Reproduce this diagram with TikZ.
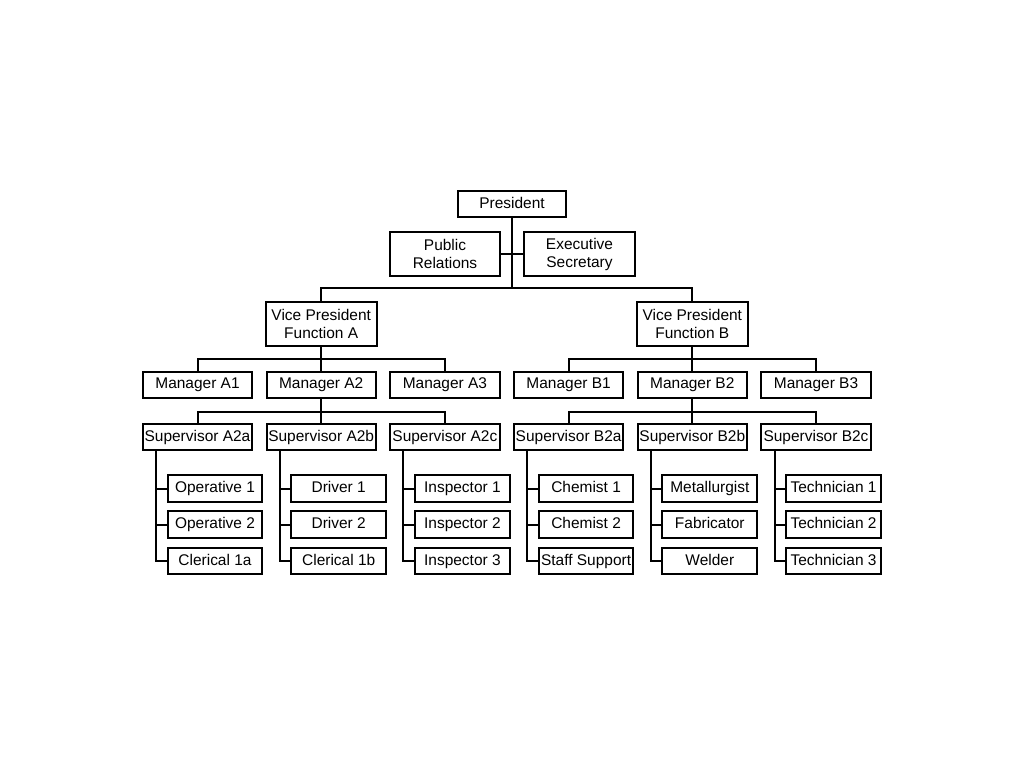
\documentclass[tikz,border=0pt]{standalone}
\usepackage{fontspec}
\setmainfont{Liberation Sans}
\begin{document}
\begin{tikzpicture}[x=0.75pt,y=-0.75pt,
  box/.style={draw, line width=1.5pt, inner sep=0pt, align=center, font=\fontsize{11.6}{13.5}\selectfont},
  one/.style={box, text height=8.4pt, text depth=2.4pt},
  col/.style={one, minimum width=82pt, minimum height=19.5pt},
  sup/.style={one, minimum width=82pt, minimum height=20pt},
  leaf/.style={one, minimum width=71pt, minimum height=20pt},
  big/.style={box, minimum width=83pt, minimum height=33.5pt},
  link/.style={draw, line width=1.5pt}]
\useasboundingbox (0,0) rectangle (1024,768);
% top
\node[one, minimum width=81pt, minimum height=19.5pt] (pres) at (512,204) {President};
\node[big] (pr) at (445,254) {Public\\Relations};
\node[big] (es) at (579.5,254) {Executive\\Secretary};
\node[big] (vpa) at (321.2,324) {Vice President\\Function A};
\node[big] (vpb) at (692.3,324) {Vice President\\Function B};
% managers
\node[col] (ma1) at (197.5,384.5) {Manager A1};
\node[col] (ma2) at (321.2,384.5) {Manager A2};
\node[col] (ma3) at (444.9,384.5) {Manager A3};
\node[col] (mb1) at (568.6,384.5) {Manager B1};
\node[col] (mb2) at (692.3,384.5) {Manager B2};
\node[col] (mb3) at (816.0,384.5) {Manager B3};
% supervisors
\node[sup] (sa) at (197.5,437) {Supervisor A2a};
\node[sup] (sb) at (321.2,437) {Supervisor A2b};
\node[sup] (sc) at (444.9,437) {Supervisor A2c};
\node[sup] (sd) at (568.6,437) {Supervisor B2a};
\node[sup] (se) at (692.3,437) {Supervisor B2b};
\node[sup] (sf) at (816.0,437) {Supervisor B2c};
% leaves
\node[leaf] (a1) at (215,488.5) {Operative 1};
\node[leaf] (a2) at (215,524.5) {Operative 2};
\node[leaf] (a3) at (215,561) {Clerical 1a};
\node[leaf] (b1) at (338.7,488.5) {Driver 1};
\node[leaf] (b2) at (338.7,524.5) {Driver 2};
\node[leaf] (b3) at (338.7,561) {Clerical 1b};
\node[leaf] (c1) at (462.4,488.5) {Inspector 1};
\node[leaf] (c2) at (462.4,524.5) {Inspector 2};
\node[leaf] (c3) at (462.4,561) {Inspector 3};
\node[leaf] (d1) at (586.1,488.5) {Chemist 1};
\node[leaf] (d2) at (586.1,524.5) {Chemist 2};
\node[leaf] (d3) at (586.1,561) {Staff Support};
\node[leaf] (e1) at (709.8,488.5) {Metallurgist};
\node[leaf] (e2) at (709.8,524.5) {Fabricator};
\node[leaf] (e3) at (709.8,561) {Welder};
\node[leaf] (f1) at (833.5,488.5) {Technician 1};
\node[leaf] (f2) at (833.5,524.5) {Technician 2};
\node[leaf] (f3) at (833.5,561) {Technician 3};
% bus coordinates
\coordinate (topbus) at (512,288.3);
\coordinate (busA) at (321.2,359.3);
\coordinate (busB) at (692.3,359.3);
\coordinate (busS) at (321.2,411.7);
\coordinate (busT) at (692.3,411.7);
\coordinate (spa) at (156,451);
\coordinate (spb) at (279.7,451);
\coordinate (spc) at (403.4,451);
\coordinate (spd) at (527.1,451);
\coordinate (spe) at (650.8,451);
\coordinate (spf) at (774.5,451);
% top links
\draw[link] (pres.south) -- (topbus);
\draw[link] (pr.east) -- (es.west);
\draw[link] (vpa.north) |- (topbus) -| (vpb.north);
% manager buses
\draw[link] (ma1.north) |- (busA) -| (ma3.north);
\draw[link] (vpa.south) -- (ma2.north);
\draw[link] (mb1.north) |- (busB) -| (mb3.north);
\draw[link] (vpb.south) -- (mb2.north);
% supervisor buses
\draw[link] (sa.north) |- (busS) -| (sc.north);
\draw[link] (ma2.south) -- (sb.north);
\draw[link] (sd.north) |- (busT) -| (sf.north);
\draw[link] (mb2.south) -- (se.north);
% leaf spines
\foreach \s/\l in {spa/a, spb/b, spc/c, spd/d, spe/e, spf/f}{
  \draw[link] (\s) |- (\l3.west);
  \draw[link] (\l1.west) -- (\l1.west -| \s);
  \draw[link] (\l2.west) -- (\l2.west -| \s);
}
\end{tikzpicture}
\end{document}
